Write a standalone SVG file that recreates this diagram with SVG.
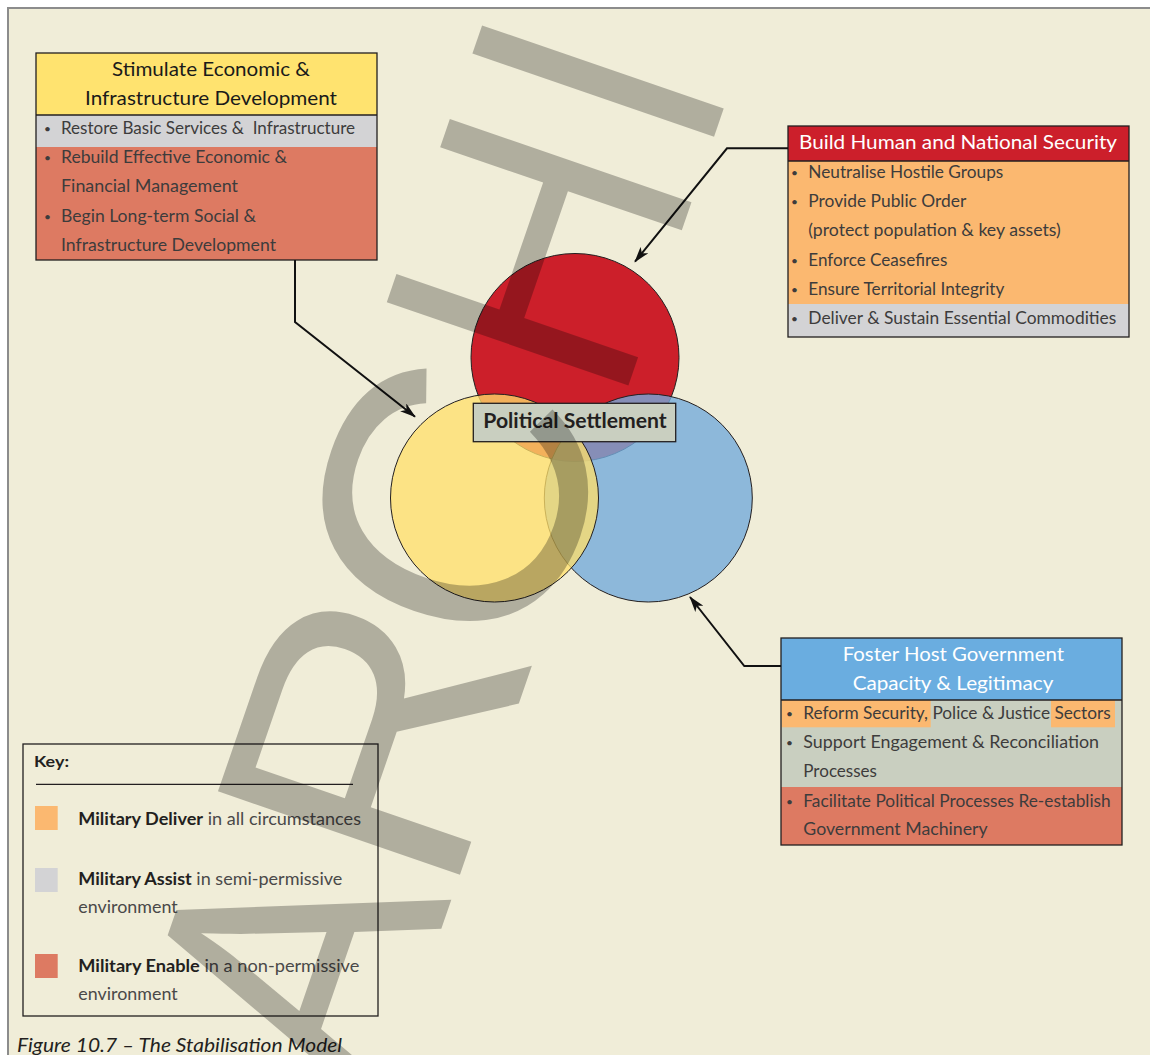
<svg xmlns="http://www.w3.org/2000/svg" width="1150" height="1055" viewBox="0 0 1150 1055">
<style>
  .hdr{font-family:Lato,"Liberation Sans",sans-serif;font-size:20px;text-anchor:middle}
  .itm{font-family:Lato,"Liberation Sans",sans-serif;font-size:17px;fill:#3d3c3c}
  .bul{font-family:Lato,"Liberation Sans",sans-serif;font-size:12px;fill:#3d3c3c}
  .box{fill:none;stroke:#231f20;stroke-width:1.3}
  .sep{stroke:#231f20;stroke-width:1.3}
  .key{font-family:Lato,"Liberation Sans",sans-serif;font-size:16.5px;fill:#4a4949}
  .kb{font-weight:700;fill:#231f20}
  .conn{fill:none;stroke:#111;stroke-width:2}
  .circ{stroke:#231f20;stroke-width:1}
</style>
<defs>
  <marker id="ah" viewBox="0 0 16 10" refX="15" refY="5" markerWidth="16" markerHeight="10" orient="auto" markerUnits="userSpaceOnUse">
    <path d="M0,0 L16,5 L0,10 L4,5 z" fill="#111"/>
  </marker>
</defs>
<rect x="0" y="0" width="1150" height="1055" fill="#ffffff"/>
<rect x="8" y="8" width="1160" height="1070" fill="#F0EDD8" stroke="#8C8C8C" stroke-width="2"/>

<g id="circles">
  <circle class="circ" cx="575" cy="357.5" r="104" fill="#CC1F2A"/>
  <circle class="circ" cx="648.3" cy="498" r="104" fill="#74AADB" fill-opacity="0.8"/>
  <circle class="circ" cx="494.5" cy="498" r="104" fill="#FFE06A" fill-opacity="0.76"/>
</g>

<g id="node-settlement">
  <rect x="473.3" y="403.3" width="202.4" height="38.4" fill="#C9CFC0" stroke="#231f20" stroke-width="1.3"/>
  <text x="575" y="427.5" font-family="Lato,'Liberation Sans',sans-serif" font-size="21" font-weight="700" fill="#231f20" text-anchor="middle" textLength="183.4" lengthAdjust="spacingAndGlyphs">Political Settlement</text>
</g>

<g id="node-economic">
  <rect x="36" y="53" width="341" height="62" fill="#FFE36F"/>
  <rect x="36" y="115" width="341" height="32" fill="#D3D3D5"/>
  <rect x="36" y="147" width="341" height="113" fill="#DD7A62"/>
  <line class="sep" x1="36" y1="115" x2="377" y2="115"/>
  <rect class="box" x="36" y="53" width="341" height="207"/>
  <text class="hdr" x="211" y="76" fill="#1a1a1a" textLength="198" lengthAdjust="spacingAndGlyphs">Stimulate Economic &amp;</text>
  <text class="hdr" x="211" y="104.5" fill="#1a1a1a" textLength="252" lengthAdjust="spacingAndGlyphs">Infrastructure Development</text>
  <text class="bul" x="44" y="133">•</text>
  <text class="itm" x="61" y="134" textLength="294" lengthAdjust="spacingAndGlyphs">Restore Basic Services &amp;&#160; Infrastructure</text>
  <text class="bul" x="44" y="162">•</text>
  <text class="itm" x="61" y="163" textLength="226" lengthAdjust="spacingAndGlyphs">Rebuild Effective Economic &amp;</text>
  <text class="itm" x="61" y="192" textLength="177" lengthAdjust="spacingAndGlyphs">Financial Management</text>
  <text class="bul" x="44" y="220.7">•</text>
  <text class="itm" x="61" y="221.7" textLength="195" lengthAdjust="spacingAndGlyphs">Begin Long-term Social &amp;</text>
  <text class="itm" x="61" y="250.7" textLength="215" lengthAdjust="spacingAndGlyphs">Infrastructure Development</text>
</g>

<g id="node-security">
  <rect x="788" y="126" width="341" height="35" fill="#CC1F2B"/>
  <rect x="788" y="161" width="341" height="143" fill="#FBB870"/>
  <rect x="788" y="304" width="341" height="33" fill="#D3D3D5"/>
  <line class="sep" x1="788" y1="161" x2="1129" y2="161"/>
  <rect class="box" x="788" y="126" width="341" height="211"/>
  <text class="hdr" x="958" y="149.3" fill="#ffffff" textLength="318" lengthAdjust="spacingAndGlyphs">Build Human and National Security</text>
  <text class="bul" x="791" y="177.3">•</text>
  <text class="itm" x="808.3" y="178.3" textLength="195" lengthAdjust="spacingAndGlyphs">Neutralise Hostile Groups</text>
  <text class="bul" x="791" y="206.3">•</text>
  <text class="itm" x="808.3" y="207.3" textLength="158" lengthAdjust="spacingAndGlyphs">Provide Public Order</text>
  <text class="itm" x="808.3" y="236.3" textLength="252.5" lengthAdjust="spacingAndGlyphs">(protect population &amp; key assets)</text>
  <text class="bul" x="791" y="265">•</text>
  <text class="itm" x="808.3" y="266" textLength="139" lengthAdjust="spacingAndGlyphs">Enforce Ceasefires</text>
  <text class="bul" x="791" y="294">•</text>
  <text class="itm" x="808.3" y="295" textLength="196" lengthAdjust="spacingAndGlyphs">Ensure Territorial Integrity</text>
  <text class="bul" x="791" y="323">•</text>
  <text class="itm" x="808.3" y="324" textLength="308" lengthAdjust="spacingAndGlyphs">Deliver &amp; Sustain Essential Commodities</text>
</g>

<g id="node-governance">
  <rect x="781" y="638" width="341" height="62" fill="#6AADE0"/>
  <rect x="781" y="700" width="341" height="87" fill="#C9CFC0"/>
  <rect x="781.7" y="700" width="149" height="27.3" fill="#FBB870"/>
  <rect x="1051" y="700" width="64" height="27.3" fill="#FBB870"/>
  <rect x="781" y="787" width="341" height="58" fill="#DD7A62"/>
  <line class="sep" x1="781" y1="700" x2="1122" y2="700"/>
  <rect class="box" x="781" y="638" width="341" height="207"/>
  <text class="hdr" x="953.3" y="660.7" fill="#ffffff" textLength="221.3" lengthAdjust="spacingAndGlyphs">Foster Host Government</text>
  <text class="hdr" x="953" y="690" fill="#ffffff" textLength="200.6" lengthAdjust="spacingAndGlyphs">Capacity &amp; Legitimacy</text>
  <text class="bul" x="786" y="718.3">•</text>
  <text class="itm" x="803.3" y="719.3" textLength="307.4" lengthAdjust="spacingAndGlyphs">Reform Security, Police &amp; Justice Sectors</text>
  <text class="bul" x="786" y="747.3">•</text>
  <text class="itm" x="803.3" y="748.3" textLength="295.7" lengthAdjust="spacingAndGlyphs">Support Engagement &amp; Reconciliation</text>
  <text class="itm" x="803.3" y="776.7" textLength="73.7" lengthAdjust="spacingAndGlyphs">Processes</text>
  <text class="bul" x="786" y="805.7">•</text>
  <text class="itm" x="803.3" y="806.7" textLength="307.4" lengthAdjust="spacingAndGlyphs">Facilitate Political Processes Re-establish</text>
  <text class="itm" x="803.3" y="835" textLength="184.4" lengthAdjust="spacingAndGlyphs">Government Machinery</text>
</g>

<g id="connectors">
  <polyline class="conn" points="295,260 295,322 415,416.7" marker-end="url(#ah)"/>
  <polyline class="conn" points="788,148.3 727,148.3 635,261.7" marker-end="url(#ah)"/>
  <polyline class="conn" points="781,666 744.3,666 690,597" marker-end="url(#ah)"/>
</g>

<g id="key">
  <rect class="box" x="23" y="744" width="355" height="272"/>
  <text x="34" y="767.3" font-family="Lato,'Liberation Sans',sans-serif" font-size="16" font-weight="700" fill="#231f20" textLength="35" lengthAdjust="spacingAndGlyphs">Key:</text>
  <line x1="36" y1="784.3" x2="353" y2="784.3" stroke="#231f20" stroke-width="1.2"/>
  <rect x="35" y="806" width="22.7" height="24" fill="#FBB870"/>
  <rect x="35" y="868" width="22.7" height="24" fill="#D3D3D5"/>
  <rect x="35" y="954" width="22.7" height="24" fill="#DD7A62"/>
  <text class="key" x="78.3" y="825" textLength="282.7" lengthAdjust="spacingAndGlyphs"><tspan class="kb">Military Deliver</tspan> in all circumstances</text>
  <text class="key" x="78.3" y="885" textLength="264" lengthAdjust="spacingAndGlyphs"><tspan class="kb">Military Assist</tspan> in semi-permissive</text>
  <text class="key" x="78.3" y="913.3" textLength="99.4" lengthAdjust="spacingAndGlyphs">environment</text>
  <text class="key" x="78.3" y="971.7" textLength="281" lengthAdjust="spacingAndGlyphs"><tspan class="kb">Military Enable</tspan> in a non-permissive</text>
  <text class="key" x="78.3" y="1000" textLength="99.4" lengthAdjust="spacingAndGlyphs">environment</text>
</g>

<text id="caption" x="17" y="1051.5" font-family="Lato,'Liberation Sans',sans-serif" font-size="20" font-style="italic" fill="#231f20" textLength="325" lengthAdjust="spacingAndGlyphs">Figure 10.7 – The Stabilisation Model</text>

<g id="watermark" transform="translate(465,860) rotate(-71)">
  <text y="0" font-family="'Open Sans','Noto Sans',sans-serif" font-size="358" fill="#000000" fill-opacity="0.265"><tspan x="-268">A</tspan><tspan x="-46 200" font-family="'Liberation Sans',sans-serif" font-size="372">RC</tspan><tspan x="467 730">HI</tspan></text>
</g>
</svg>
